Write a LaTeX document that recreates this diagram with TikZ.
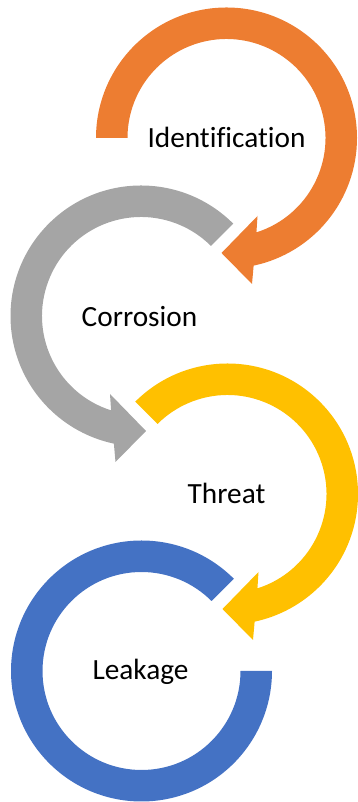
\documentclass[tikz,border=0pt]{standalone}
\usepackage{fontspec}
\setmainfont{Carlito}[Ligatures=NoCommon]
\definecolor{cOrange}{HTML}{ED7D31}
\definecolor{cGrey}{HTML}{A5A5A5}
\definecolor{cYellow}{HTML}{FFC000}
\definecolor{cBlue}{HTML}{4472C4}
\begin{document}
\begin{tikzpicture}[x=1pt,y=1pt,
  lbl/.style={font=\fontsize{29.3}{35}\selectfont, text=black, anchor=base, inner sep=0pt}]
\useasboundingbox (0,0) rectangle (358,802);
% Identification (orange), clockwise from 180 deg
\begin{scope}[shift={(226.5,664)}]
\fill[cOrange] (180:130.5) arc[start angle=180, end angle=-78, radius=130.5]
  -- (25.5,-146) -- (-5,-115) -- (31,-78) -- (-72.4:99)
  arc[start angle=-72.4, end angle=180, radius=99] -- cycle;
\end{scope}
% Corrosion (grey), counter-clockwise from 45 deg
\begin{scope}[shift={(141,486)}]
\fill[cGrey] (45:130.5) arc[start angle=45, end angle=258, radius=130.5]
  -- (-25.5,-146) -- (5,-115) -- (-31,-78) -- (252.4:99)
  arc[start angle=252.4, end angle=45, radius=99] -- cycle;
\end{scope}
% Threat (yellow), clockwise from 135 deg
\begin{scope}[shift={(227.5,308)}]
\fill[cYellow] (135:130.5) arc[start angle=135, end angle=-78, radius=130.5]
  -- (25.5,-146) -- (-5,-115) -- (31,-78) -- (-72.4:99)
  arc[start angle=-72.4, end angle=135, radius=99] -- cycle;
\end{scope}
% Leakage (blue), counter-clockwise from 45 deg to 360 deg
\begin{scope}[shift={(141.5,131)}]
\fill[cBlue] (45:130.5) arc[start angle=45, end angle=360, radius=130.5]
  -- (0:99) arc[start angle=360, end angle=45, radius=99] -- cycle;
\end{scope}
\node[lbl] (ident) at (226.5,654) {Identification};
\node[lbl] (corr) at (139.5,475) {Corrosion};
\node[lbl] (threat) at (226.5,298.7) {Threat};
\node[lbl] (leak) at (140.5,122) {Leakage};
\end{tikzpicture}
\end{document}
